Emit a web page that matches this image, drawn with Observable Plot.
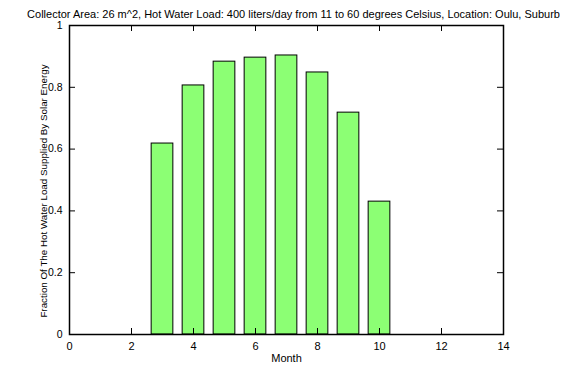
<!DOCTYPE html>
<html><head><meta charset="utf-8">
<script src="https://cdn.jsdelivr.net/npm/d3@7"></script>
<script src="https://cdn.jsdelivr.net/npm/@observablehq/plot@0.6"></script>
<style>body{margin:0;background:#fff;} svg{display:block;}</style>
</head><body><div id="chart"></div>
<script>
const titleText = "Collector Area: 26 m^2, Hot Water Load: 400 liters/day from 11 to 60 degrees Celsius, Location: Oulu, Suburb";
const xLabel = "Month";
const yLabel = "Fraction Of The Hot Water Load Supplied By Solar Energy";
const months = [3, 4, 5, 6, 7, 8, 9, 10];
const fractions = [0.618, 0.806, 0.883, 0.896, 0.903, 0.848, 0.718, 0.430];
const xTicks = [0, 2, 4, 6, 8, 10, 12, 14];
const yTicks = [0, 0.2, 0.4, 0.6, 0.8, 1];
const barHalfWidth = 0.35;

const W = 588, H = 381, mL = 69, mR = 85, mT = 25, mB = 47;
const plotH = H - mT - mB, plotW = W - mL - mR, tick = 6;
const data = months.map((m, i) => ({month: m, value: fractions[i]}));
const font = "Liberation Sans, Arial, sans-serif";

const chart = Plot.plot({
  width: W, height: H,
  marginLeft: mL, marginRight: mR, marginTop: mT, marginBottom: mB,
  style: {fontFamily: font, fontSize: "11px", color: "#000", background: "#fff"},
  x: {domain: [0, 14]},
  y: {domain: [0, 1]},
  marks: [
    Plot.rectY(data, {x1: d => d.month - barHalfWidth, x2: d => d.month + barHalfWidth, y1: 0, y2: "value", fill: "#8cff74", stroke: "#000", strokeWidth: 1}),
    Plot.tickX(xTicks, {x: d => d, insetTop: plotH - tick, stroke: "#000"}),
    Plot.tickX(xTicks, {x: d => d, insetBottom: plotH - tick, stroke: "#000"}),
    Plot.tickY(yTicks, {y: d => d, insetRight: plotW - tick, stroke: "#000"}),
    Plot.tickY(yTicks, {y: d => d, insetLeft: plotW - tick, stroke: "#000"}),
    Plot.frame({stroke: "#000", strokeWidth: 1.5}),
    Plot.axisX({ticks: xTicks, tickSize: 0, tickPadding: 8, label: null, fontSize: 11}),
    Plot.axisY({ticks: yTicks, tickSize: 0, tickPadding: 7, label: null, tickFormat: d => String(d), fontSize: 10.5}),
    Plot.text([xLabel], {frameAnchor: "bottom", dy: 27, text: d => d, fontSize: 11}),
    Plot.text([yLabel], {frameAnchor: "left", textAnchor: "middle", dx: -26, dy: 11, rotate: -90, text: d => d, fontSize: 9.8}),
    Plot.text([titleText], {frameAnchor: "top", textAnchor: "middle", dx: 7, dy: -15, text: d => d, fontSize: 11})
  ]
});
document.getElementById("chart").appendChild(chart);
</script></body></html>
